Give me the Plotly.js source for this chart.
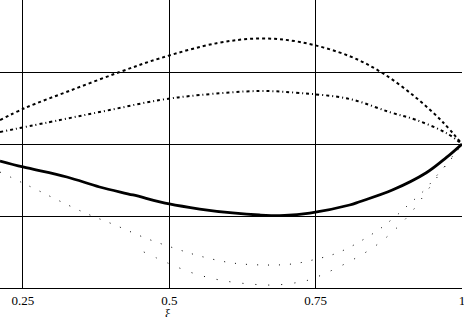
<!DOCTYPE html>
<html>
<head>
<meta charset="utf-8">
<script src="https://cdn.plot.ly/plotly-3.0.1.min.js"></script>
<style>html,body{margin:0;padding:0;background:#fff;}#chart{width:464px;height:317px;}</style>
</head>
<body>
<div id="chart"></div>
<script>
// Solid curve
const solidX = [0.2108, 0.25, 0.325, 0.381, 0.438, 0.5, 0.552, 0.608, 0.654, 0.697, 0.74, 0.808, 0.825, 0.881, 0.939, 0.973, 1.0];
const solidY = [1.764, 1.681, 1.542, 1.403, 1.292, 1.167, 1.097, 1.042, 1.014, 1.007, 1.04, 1.153, 1.198, 1.36, 1.60, 1.81, 2.0];
// Upper dotted curve
const upperX = [0.2108, 0.2534, 0.330, 0.4155, 0.4838, 0.581, 0.654, 0.723, 0.808, 0.864, 0.922, 0.967, 1.0];
const upperY = [2.333, 2.5, 2.74, 3.0, 3.19, 3.40, 3.465, 3.417, 3.22, 2.986, 2.64, 2.306, 2.0];
// Middle dash-dot curve
const midX = [0.2108, 0.313, 0.398, 0.484, 0.552, 0.654, 0.723, 0.808, 0.876, 0.922, 0.973, 1.0];
const midY = [2.167, 2.333, 2.472, 2.611, 2.68, 2.736, 2.708, 2.625, 2.444, 2.333, 2.153, 2.0];
// Lower sparse dotted curve A
const lowAX = [0.2108, 0.2568, 0.3524, 0.407, 0.4633, 0.5128, 0.552, 0.6084, 0.6664, 0.709, 0.745, 0.791, 0.852, 0.883, 0.910, 0.936, 0.962, 0.987, 1.0];
const lowAY = [1.61, 1.431, 1.056, 0.875, 0.681, 0.542, 0.444, 0.347, 0.319, 0.333, 0.389, 0.5, 0.778, 0.972, 1.167, 1.361, 1.611, 1.847, 2.0];
// Lower sparse dotted curve B
const lowBX = [0.4565, 0.4974, 0.540, 0.586, 0.637, 0.680, 0.723, 0.748, 0.847, 0.905, 0.945, 0.979, 1.0];
const lowBY = [0.5, 0.347, 0.208, 0.111, 0.056, 0.042, 0.083, 0.139, 0.556, 0.972, 1.40, 1.778, 2.0];
// Ticks
const xTickVals = [0.25, 0.5, 0.75, 1];
const xTickText = ['0.25', '0.5', '0.75', '1'];
const yGridVals = [0, 1, 2, 3, 4];
const xTitle = 'ξ';

const traces = [
  {x: lowAX, y: lowAY, mode: 'lines', line: {color: '#000', width: 1, dash: '1px,10px', shape: 'spline'}},
  {x: lowBX, y: lowBY, mode: 'lines', line: {color: '#000', width: 1, dash: '1px,12px', shape: 'spline'}},
  {x: upperX, y: upperY, mode: 'lines', line: {color: '#000', width: 2, dash: '3px,3px', shape: 'spline'}},
  {x: midX, y: midY, mode: 'lines', line: {color: '#000', width: 2, dash: '3px,3px,1px,3px', shape: 'spline'}},
  {x: solidX, y: solidY, mode: 'lines', line: {color: '#000', width: 2.8, shape: 'spline'}}
];

const layout = {
  width: 464, height: 317,
  margin: {l: 0, r: 2, t: 0, b: 29, pad: 0},
  paper_bgcolor: '#fff', plot_bgcolor: '#fff',
  showlegend: false,
  font: {family: 'Liberation Serif, Times New Roman, serif', color: '#000', size: 13},
  xaxis: {
    range: [0.2108, 1], tickvals: xTickVals, ticktext: xTickText,
    showgrid: true, gridcolor: '#000', gridwidth: 1, zeroline: false,
    showline: true, mirror: true, linecolor: '#000', linewidth: 1, ticks: '',
    ticklabeloverflow: 'allow',
    tickfont: {family: 'Liberation Serif, serif', size: 13, color: '#000'}
  },
  yaxis: {
    range: [0, 4], tickvals: yGridVals, showticklabels: false,
    showgrid: true, gridcolor: '#000', gridwidth: 1, zeroline: false,
    showline: false, ticks: ''
  },
  annotations: [{
    text: xTitle, xref: 'x', yref: 'paper', x: 0.497, y: -0.088,
    xanchor: 'center', yanchor: 'middle', showarrow: false, borderpad: 0,
    font: {family: 'Liberation Serif, serif', size: 13, color: '#000'}
  }]
};

Plotly.newPlot('chart', traces, layout, {staticPlot: true, displayModeBar: false});
</script>
</body>
</html>
